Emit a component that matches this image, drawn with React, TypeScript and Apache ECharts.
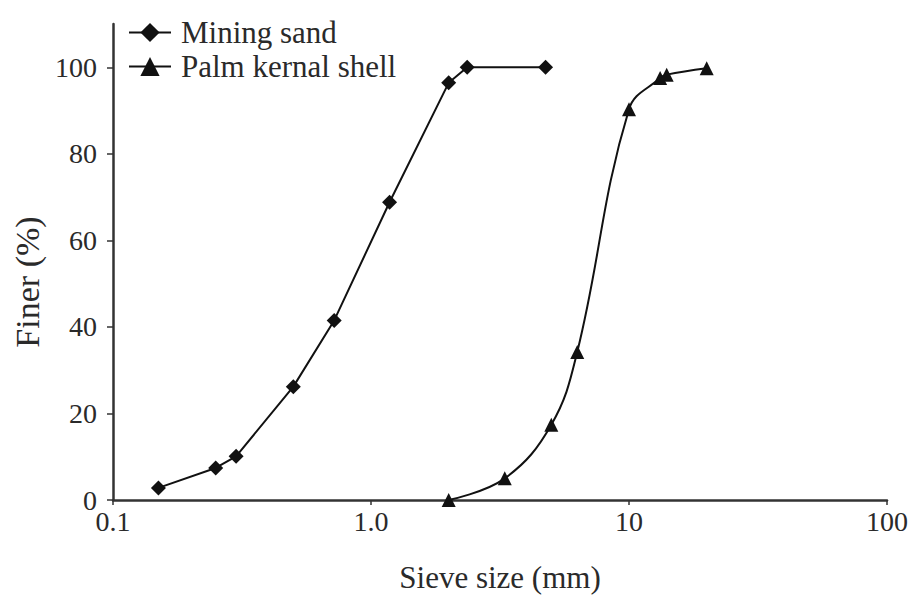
import React, { useEffect, useRef } from "react";
import * as echarts from "echarts";

const sandSize = [0.15, 0.25, 0.3, 0.5, 0.72, 1.18, 2.0, 2.36, 4.75];
const sandFiner = [2.8, 7.4, 10.1, 26.2, 41.5, 68.8, 96.4, 100, 100];
const palmSize = [2.0, 3.3, 5.0, 6.3, 10, 13.2, 14, 20];
const palmFiner = [0, 5, 17.4, 34.2, 90.3, 97.5, 98.3, 99.8];
const yTicks = [0, 20, 40, 60, 80, 100];
const seriesNames = ["Mining sand", "Palm kernal shell"];

const FONT = "'Liberation Serif', 'Times New Roman', serif";
const TXT = "#2a2a2a";

export default function App() {
  const ref = useRef<HTMLDivElement>(null);
  useEffect(() => {
    if (!ref.current) return;
    const chart = echarts.init(ref.current, null, { renderer: "svg" });
    chart.setOption({
      animation: false,
      backgroundColor: "#ffffff",
      grid: { left: 113, right: 29, top: 24, bottom: 99, containLabel: false },
      legend: {
        orient: "vertical",
        left: 123,
        top: 12,
        itemWidth: 42,
        itemHeight: 24,
        itemGap: 3,
        data: seriesNames,
        textStyle: {
          fontFamily: FONT,
          fontSize: 31,
          color: TXT,
          lineHeight: 31,
          padding: [0, 0, 0, 5],
        },
      },
      xAxis: {
        type: "log",
        logBase: 10,
        min: 0.1,
        max: 100,
        name: "Sieve size (mm)",
        nameLocation: "middle",
        nameGap: 62,
        nameTextStyle: { fontFamily: FONT, fontSize: 31, color: TXT },
        axisLine: { lineStyle: { color: "#333", width: 2.5 } },
        axisTick: { show: true, length: 5, lineStyle: { color: "#333", width: 1.5 } },
        minorTick: { show: false },
        splitLine: { show: false },
        axisLabel: {
          fontFamily: FONT,
          fontSize: 28,
          color: TXT,
          margin: 7,
          formatter: (v: number) => {
            if (Math.abs(v - 1) < 1e-9) return "1.0";
            if (v < 0.5) return "0.1";
            return String(Math.round(v));
          },
        },
      },
      yAxis: {
        type: "value",
        min: 0,
        max: 110,
        interval: 20,
        name: "Finer (%)",
        nameLocation: "middle",
        nameGap: 66,
        nameTextStyle: {
          fontFamily: FONT,
          fontSize: 34,
          color: TXT,
          padding: [0, 40, 0, 0],
        },
        axisLine: { show: true, lineStyle: { color: "#333", width: 2.5 } },
        axisTick: {
          show: true,
          length: 6,
          customValues: yTicks,
          lineStyle: { color: "#333", width: 1.5 },
        },
        splitLine: { show: false },
        axisLabel: {
          fontFamily: FONT,
          fontSize: 28,
          color: TXT,
          margin: 16,
          customValues: yTicks,
        },
      },
      series: [
        {
          name: seriesNames[0],
          type: "line",
          data: sandSize.map((x, i) => [x, sandFiner[i]]),
          symbol: "diamond",
          symbolSize: 15,
          smooth: false,
          lineStyle: { color: "#111", width: 2 },
          itemStyle: { color: "#111" },
        },
        {
          name: seriesNames[1],
          type: "line",
          data: palmSize.map((x, i) => [x, palmFiner[i]]),
          symbol: "triangle",
          symbolSize: 14,
          smooth: 0.4,
          lineStyle: { color: "#111", width: 2 },
          itemStyle: { color: "#111" },
        },
      ],
    });
    return () => chart.dispose();
  }, []);
  return (
    <div
      ref={ref}
      style={{ position: "fixed", left: 0, top: 0, width: 916, height: 599, background: "#fff" }}
    />
  );
}
